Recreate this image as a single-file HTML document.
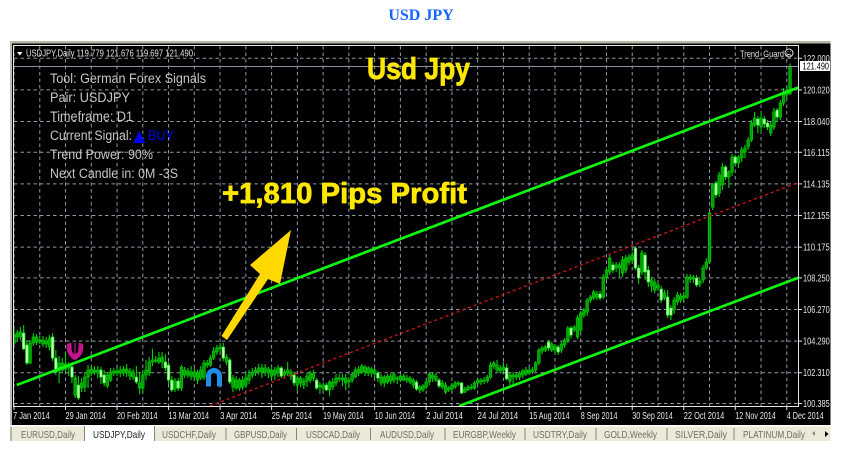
<!DOCTYPE html>
<html lang="en">
<head>
<meta charset="utf-8">
<title>USD JPY</title>
<style>
html,body{margin:0;padding:0;background:#fff;width:844px;height:459px;overflow:hidden}
svg{display:block}
text{font-family:"Liberation Sans",sans-serif}
.tab{font-size:10.5px;fill:#6f6f66}
.info{font-size:13.5px;fill:#c6c6c6}
</style>
</head>
<body>
<svg id="chart" xmlns="http://www.w3.org/2000/svg" width="844" height="459" viewBox="0 0 844 459">
  <defs><clipPath id="plot-clip"><rect x="14" y="46" width="784.5" height="360"/></clipPath></defs>
  <text x="421" y="20" text-anchor="middle" style="font-family:'Liberation Serif',serif;font-weight:bold;font-size:16px;fill:#1565ff">USD JPY</text>

  <rect x="10" y="41" width="820.5" height="385" fill="#000"/>
  <rect x="10" y="41" width="820.5" height="2.5" fill="#b9b7a4"/>
  <rect x="10" y="41" width="2" height="385" fill="#bdbcae"/>
  <g id="grid-layer"></g>
  <rect x="13.5" y="45.5" width="785" height="361" fill="none" stroke="#e4e4e4" stroke-width="1"/>
  <g id="tick-layer"></g>
  <g id="candle-layer" clip-path="url(#plot-clip)"></g>
  <g id="trend-layer" clip-path="url(#plot-clip)"></g>

  <path d="M17 52h5.5l-2.75 3.5z" fill="#fff"/>
  <text x="26" y="56.5" font-size="10" fill="#e0e0e0" textLength="167" lengthAdjust="spacingAndGlyphs">USDJPY,Daily  119.779 121.676 119.697 121.490</text>

  <text class="info" x="50" y="83" textLength="156" lengthAdjust="spacingAndGlyphs">Tool: German Forex Signals</text>
  <text class="info" x="50" y="102" textLength="80" lengthAdjust="spacingAndGlyphs">Pair: USDJPY</text>
  <text class="info" x="50" y="121" textLength="83" lengthAdjust="spacingAndGlyphs">Timeframe: D1</text>
  <text class="info" x="50" y="140" textLength="82" lengthAdjust="spacingAndGlyphs">Current Signal:</text>
  <text x="133" y="141" style="font-family:'DejaVu Sans',sans-serif;font-size:16px;fill:#0000f0">▲</text>
  <text x="148" y="140" font-size="14" fill="#0000f0" textLength="26" lengthAdjust="spacingAndGlyphs">BUY</text>
  <text class="info" x="50" y="159" textLength="103" lengthAdjust="spacingAndGlyphs">Trend Power: 90%</text>
  <text class="info" x="50" y="178" textLength="128" lengthAdjust="spacingAndGlyphs">Next Candle in: 0M -3S</text>

  <text x="367" y="79" font-size="31" font-weight="bold" fill="#ffe800" stroke="#ffe800" stroke-width="0.7" textLength="103" lengthAdjust="spacingAndGlyphs">Usd Jpy</text>
  <text x="222" y="203" font-size="29" font-weight="bold" fill="#ffe800" stroke="#ffe800" stroke-width="0.7" textLength="245" lengthAdjust="spacingAndGlyphs">+1,810 Pips Profit</text>

  <polygon points="221.5,336 260,274 250,265 291,230 280,284 268,279 227,340" fill="#ffd800"/>

  <path d="M67 344 C65.5 352 70 358 75 360 C80 358 84.5 352 83 344 L78.8 342.5 L78 352 L75.6 354 V343 H74.4 V354 L72 352 L71.2 342.5 Z" fill="#c2158c"/>
  <path d="M208.5 386.5 V376 a5.5 5.5 0 0 1 11 0 V386.5" fill="none" stroke="#1e8ce8" stroke-width="5"/>

  <text x="740" y="57" font-size="9.5" fill="#e0e0e0" textLength="44" lengthAdjust="spacingAndGlyphs">Trend_Guard</text>
  <g fill="none" stroke="#e0e0e0" stroke-width="1">
    <circle cx="789" cy="53" r="4"/>
    <path d="M786.8 55.5q2.2-2 4.4 0M787.5 51.5h.6M790 51.5h.6"/>
  </g>

  <rect x="800" y="61" width="30" height="10" fill="#fff"/>
  <text x="802.5" y="69.3" font-size="10" fill="#000" textLength="26.5" lengthAdjust="spacingAndGlyphs">121.490</text>

  <g>
    <rect x="10" y="425.5" width="820.5" height="15.5" fill="#ece9d8"/>
    <rect x="10" y="425" width="820.5" height="1.5" fill="#fff"/>
    <rect x="85" y="425" width="69.5" height="17" fill="#fff"/>
    <path d="M11 427v14M84.5 426v15M154.5 426v15M226 428v12M296.5 428v12M370.5 428v12M445 428v12M525 428v12M596 428v12M667 428v12M734 428v12" stroke="#85837a" stroke-width="1" fill="none"/>
    <text class="tab" x="21" y="438" textLength="54" lengthAdjust="spacingAndGlyphs">EURUSD,Daily</text>
    <text class="tab" x="93" y="438" textLength="52" lengthAdjust="spacingAndGlyphs" style="fill:#222">USDJPY,Daily</text>
    <text class="tab" x="162" y="438" textLength="54" lengthAdjust="spacingAndGlyphs">USDCHF,Daily</text>
    <text class="tab" x="234" y="438" textLength="53" lengthAdjust="spacingAndGlyphs">GBPUSD,Daily</text>
    <text class="tab" x="306" y="438" textLength="54" lengthAdjust="spacingAndGlyphs">USDCAD,Daily</text>
    <text class="tab" x="380" y="438" textLength="54" lengthAdjust="spacingAndGlyphs">AUDUSD,Daily</text>
    <text class="tab" x="453" y="438" textLength="63" lengthAdjust="spacingAndGlyphs">EURGBP,Weekly</text>
    <text class="tab" x="533" y="438" textLength="54" lengthAdjust="spacingAndGlyphs">USDTRY,Daily</text>
    <text class="tab" x="604" y="438" textLength="53" lengthAdjust="spacingAndGlyphs">GOLD,Weekly</text>
    <text class="tab" x="675" y="438" textLength="52" lengthAdjust="spacingAndGlyphs">SILVER,Daily</text>
    <text class="tab" x="743" y="438" textLength="62" lengthAdjust="spacingAndGlyphs">PLATINUM,Daily</text>
    <path d="M815 431v5l-3-2.5z" fill="#8a8a80"/>
    <path d="M825 431v6l3.5-3z" fill="#000"/>
  </g>
</svg>
<script>
const priceTicks = ["122.000","120.020","118.040","116.115","114.135","112.155","110.175","108.250","106.270","104.290","102.310","100.385"];
const dateTicks = ["7 Jan 2014","29 Jan 2014","20 Feb 2014","13 Mar 2014","3 Apr 2014","25 Apr 2014","19 May 2014","10 Jun 2014","2 Jul 2014","24 Jul 2014","15 Aug 2014","8 Sep 2014","30 Sep 2014","22 Oct 2014","12 Nov 2014","4 Dec 2014"];
const barsPerDateTick = [16];
const currentPrice = [121.49];

const opens = [
104.17,104.55,104.55,104.80,104.05,102.92,104.17,104.23,104.23,104.11,
104.11,103.92,104.55,103.23,102.42,102.48,102.54,102.61,102.67,100.91,
101.54,101.35,101.42,102.04,102.29,102.36,102.29,102.48,102.17,101.48,
101.85,102.29,102.29,102.29,102.29,102.29,102.10,102.04,102.04,101.35,
101.35,102.17,102.29,102.98,103.04,102.98,102.98,102.98,102.79,101.85,
101.29,101.79,101.35,102.17,102.17,102.10,102.04,101.85,101.98,102.04,
102.79,102.79,103.23,103.61,103.80,103.92,102.98,103.11,101.42,101.35,
101.35,101.42,101.54,101.85,102.17,102.36,102.36,102.36,102.36,102.29,
102.10,102.17,102.29,102.61,102.17,102.29,102.10,102.17,101.54,101.67,
101.54,101.79,101.85,101.98,101.85,101.42,101.35,101.54,101.23,101.42,
101.67,101.92,101.85,101.67,101.73,101.85,102.04,102.29,102.36,102.36,
102.29,102.29,102.23,102.29,101.67,101.67,101.73,101.79,101.85,101.92,
101.85,101.85,101.85,101.73,101.54,101.73,101.23,101.23,101.42,101.73,
101.98,101.85,101.85,101.42,101.10,101.23,101.29,101.42,101.60,101.67,
101.10,101.23,101.35,101.35,101.67,101.73,101.79,101.79,102.04,102.73,
102.48,102.42,102.48,102.61,101.79,102.04,102.04,102.04,102.17,102.23,
102.29,102.36,102.48,102.92,103.67,103.73,104.23,103.73,103.73,103.92,
103.73,104.05,104.36,105.11,104.99,104.55,104.99,105.92,106.11,106.86,
106.99,107.05,107.24,107.05,108.30,108.62,109.06,108.87,108.87,108.55,
108.74,109.24,109.37,110.12,108.87,108.62,109.68,108.74,107.74,107.49,
107.62,107.55,106.99,107.05,106.36,106.24,106.74,106.86,106.99,107.05,
108.18,108.18,108.24,107.87,108.12,108.87,109.24,112.69,114.19,113.56,
114.07,115.19,114.57,114.88,115.82,115.44,115.76,116.13,116.45,116.88,
117.82,118.20,117.70,118.20,117.95,117.32,117.70,118.76,118.32,119.20,119.70,119.78];

const highs = [
105.11,104.99,105.17,105.30,104.36,104.36,104.80,104.73,104.61,104.61,
104.55,104.67,104.80,103.73,103.36,103.23,103.61,102.98,102.98,102.17,
102.10,101.98,102.36,102.79,102.73,102.73,102.73,102.67,102.48,102.36,
102.61,102.61,102.61,102.73,102.73,102.86,102.61,102.54,102.73,102.36,
102.48,103.11,103.29,103.80,103.36,103.61,103.61,103.48,102.98,102.10,
101.98,101.98,102.79,102.67,102.61,102.73,102.61,102.48,102.73,103.11,
103.11,103.42,103.92,104.05,104.17,104.17,103.48,103.23,102.17,102.10,
101.98,102.10,102.36,102.48,102.61,102.67,102.86,102.86,102.86,102.67,
102.73,102.67,102.79,102.73,102.54,102.98,102.54,102.36,102.10,102.10,
101.98,102.29,102.42,102.48,101.98,101.73,101.73,101.67,101.85,101.98,
102.23,102.23,102.23,102.23,102.04,102.36,102.67,102.73,102.86,102.79,
102.73,102.67,102.61,102.42,102.23,102.17,102.23,102.29,102.36,102.10,
102.23,102.23,102.17,102.10,101.98,101.85,101.54,101.60,101.85,102.36,
102.36,102.29,101.98,101.85,101.73,101.48,101.67,101.79,101.79,101.73,
101.42,101.54,101.60,101.79,101.98,101.98,102.04,102.17,102.98,103.04,
103.11,102.79,102.98,102.86,102.36,102.36,102.29,102.42,102.54,102.67,
102.67,102.67,103.04,103.86,103.98,104.05,104.36,104.23,104.11,104.05,
104.23,104.48,105.24,105.24,105.30,105.92,106.17,106.36,106.99,107.18,
107.49,107.43,107.43,108.49,108.93,109.68,109.24,109.24,109.24,109.62,
109.68,109.74,109.87,110.25,109.06,110.00,109.87,108.99,108.30,108.18,
107.99,107.74,107.49,107.49,106.55,107.05,107.37,107.30,107.37,108.49,
108.49,108.43,108.43,108.18,109.06,109.49,112.37,114.19,114.32,114.88,
115.44,115.32,115.00,116.01,115.94,115.94,116.45,116.57,117.07,118.14,
118.64,118.39,118.64,118.39,118.14,118.01,118.89,118.89,119.39,120.14,120.26,121.68];

const lows = [
104.05,104.23,104.36,103.73,102.79,102.86,103.98,104.05,104.11,103.92,
103.86,103.73,103.04,102.17,101.67,102.36,102.29,102.10,101.67,100.73,
100.60,101.10,101.10,101.35,102.10,102.17,101.98,101.60,101.48,101.35,
101.73,102.10,102.10,102.04,102.10,102.04,101.85,101.85,101.60,100.98,
101.10,101.85,102.10,102.73,102.92,102.86,102.61,102.42,101.60,101.10,
101.10,101.17,101.17,101.98,101.98,101.85,101.85,101.60,101.85,101.85,
102.61,102.67,103.11,103.42,103.61,103.04,102.79,101.60,101.10,101.23,
101.17,101.23,101.35,101.60,101.98,102.10,102.17,101.98,102.10,101.98,
101.85,101.85,102.04,101.98,101.98,102.10,101.85,101.48,101.17,101.42,
101.29,101.42,101.67,101.79,101.23,100.98,101.10,101.17,100.85,101.23,
101.48,101.73,101.48,101.23,101.35,101.67,101.98,102.10,102.23,102.10,
102.10,102.04,101.98,101.73,101.48,101.42,101.60,101.60,101.67,101.60,
101.73,101.79,101.67,101.60,101.35,101.17,101.04,101.10,101.29,101.54,
101.73,101.73,101.35,101.29,100.98,101.10,101.17,101.29,101.48,100.98,
101.04,101.17,101.23,101.23,101.54,101.54,101.60,101.67,101.92,102.54,
102.36,102.23,102.36,101.85,101.54,101.48,101.85,101.85,101.98,102.10,
102.17,102.23,102.36,102.79,103.48,103.61,103.67,103.61,103.48,103.42,
103.55,103.86,104.17,104.48,104.86,104.42,104.80,105.74,105.86,106.68,
106.86,106.86,106.86,106.93,108.12,108.43,108.55,108.62,108.24,108.30,
108.55,109.06,109.24,108.74,107.87,108.43,108.12,107.68,107.37,107.30,
107.43,106.68,106.86,105.74,105.61,105.99,106.55,106.68,106.74,106.93,
107.93,107.93,107.68,107.68,107.93,108.74,109.12,112.50,113.25,113.31,
113.75,114.38,113.88,114.63,115.32,115.13,115.51,115.76,116.26,116.76,
117.70,117.32,117.38,117.63,117.51,117.13,117.51,118.01,118.14,119.01,119.51,119.70];

const closes = [
104.67,104.80,104.86,103.80,102.92,104.17,104.55,104.55,104.36,104.36,
104.30,104.48,103.23,102.36,102.92,102.92,102.86,102.73,102.04,101.98,
100.73,101.67,102.04,102.48,102.54,102.48,102.48,102.04,101.67,102.17,
102.36,102.42,102.42,102.48,102.54,102.54,102.42,102.36,101.73,101.67,
102.17,102.48,102.98,103.11,103.11,103.23,103.29,102.61,101.85,101.23,
101.79,101.35,102.67,102.48,102.42,102.36,102.36,102.29,102.48,102.92,
102.92,103.23,103.67,103.86,103.92,103.23,103.29,101.73,101.98,101.85,
101.85,101.85,101.98,102.17,102.36,102.48,102.61,102.61,102.61,102.54,
102.48,102.48,102.61,102.10,102.36,102.48,102.36,101.67,101.98,101.98,
101.79,102.10,102.29,102.29,101.35,101.54,101.54,101.23,101.73,101.73,
101.98,101.98,101.98,101.98,101.85,102.23,102.48,102.54,102.73,102.67,
102.61,102.54,102.48,101.98,102.04,102.04,102.10,102.10,102.23,101.98,
102.10,102.10,101.98,101.98,101.85,101.29,101.42,101.48,101.73,102.23,
102.17,102.10,101.48,101.67,101.54,101.35,101.54,101.67,101.67,101.04,
101.29,101.42,101.42,101.67,101.85,101.85,101.85,102.04,102.79,102.92,
102.79,102.61,102.67,101.92,102.17,102.17,102.17,102.29,102.42,102.48,
102.48,102.48,102.92,103.73,103.86,103.92,103.86,104.11,103.98,103.61,
104.11,104.36,105.11,104.67,105.17,105.74,106.05,106.24,106.86,107.05,
107.37,107.24,106.99,108.30,108.74,109.49,108.74,109.06,109.06,109.37,
109.49,109.56,109.68,108.87,108.24,109.81,108.62,107.99,108.12,107.99,
107.80,106.86,107.30,105.92,105.92,106.86,107.18,107.12,107.12,108.30,
108.30,108.30,107.80,108.05,108.87,109.24,112.31,114.07,113.44,114.69,
115.19,114.57,114.88,115.82,115.44,115.82,116.26,116.38,116.88,117.95,
118.26,117.82,118.26,117.89,117.70,117.82,118.64,118.32,119.20,119.89,120.01,121.49];

const upperChannelBars = [1, 243.7];
const upperChannelPrices = [101.54, 120.17];
const middleChannelBars = [61, 243.7];
const middleChannelPrices = [100.23, 114.22];
const lowerChannelBars = [138.4, 243.7];
const lowerChannelPrices = [100.23, 108.26];

const SVG_NS = "http://www.w3.org/2000/svg";
function xScale(bar) { return 13.5 + 3.22 * bar; }
function yScale(price) { return 58.3 + (122 - price) * 15.97; }
function make(parent, tag, attrs, text) {
  const el = document.createElementNS(SVG_NS, tag);
  for (const k in attrs) el.setAttribute(k, attrs[k]);
  if (text !== undefined) el.textContent = text;
  parent.appendChild(el);
  return el;
}

const gridLayer = document.getElementById("grid-layer");
const tickLayer = document.getElementById("tick-layer");
const candleLayer = document.getElementById("candle-layer");
const trendLayer = document.getElementById("trend-layer");
const gridStyle = { stroke: "#8e98a6", "stroke-width": 1, "stroke-dasharray": "3.5 3" };

priceTicks.forEach(function (label) {
  const y = yScale(parseFloat(label));
  const line = make(gridLayer, "line", Object.assign({ x1: 14, x2: 798, y1: y, y2: y }, gridStyle));
  
  
  const tick = make(tickLayer, "line", { x1: 798.5, x2: 802, y1: y, y2: y, stroke: "#e4e4e4" });
  
  
  const txt = make(tickLayer, "text", { x: 803, y: y + 3.5, "font-size": 10, fill: "#e6e6e6", textLength: 26.7, lengthAdjust: "spacingAndGlyphs" }, label);
  
  
});

for (let b = 0; b < opens.length; b += barsPerDateTick[0] / 2) {
  const x = xScale(b) + 0.5;
  const line = make(gridLayer, "line", Object.assign({ x1: x, x2: x, y1: 46, y2: 406 }, gridStyle));
  
  
}

dateTicks.forEach(function (label, i) {
  const x = xScale(i * barsPerDateTick[0]) + 0.5;
  const tick = make(tickLayer, "line", { x1: x, x2: x, y1: 406, y2: 410, stroke: "#e4e4e4" });
  
  
  const txt = make(tickLayer, "text", { x: i === 0 ? 13 : x, y: 419, "font-size": 10, fill: "#e6e6e6", textLength: label.length * 3.68, lengthAdjust: "spacingAndGlyphs" }, label);
  
  
});

opens.forEach(function (open, i) {
  const close = closes[i];
  const x = xScale(i) + 0.5;
  const bearish = close < open;
  const wick = make(candleLayer, "line", { x1: x, x2: x, y1: yScale(highs[i]), y2: yScale(lows[i]), stroke: "#00d400", "stroke-width": 1.1 });
  
  
  const top = yScale(Math.max(open, close));
  const bottom = yScale(Math.min(open, close));
  const body = make(candleLayer, "rect", {
    x: x - 1.3, y: top, width: 2.6, height: Math.max(bottom - top, 1),
    fill: bearish ? "#c4ffba" : "#069a06",
    stroke: bearish ? "#22e622" : "#00cc00", "stroke-width": 0.7
  });
  
  
});

function drawChannel(bars, prices, color, width, dash, name) {
  const attrs = { x1: xScale(bars[0]), x2: xScale(bars[1]), y1: yScale(prices[0]), y2: yScale(prices[1]), stroke: color, "stroke-width": width };
  if (dash) attrs["stroke-dasharray"] = dash;
  const line = make(trendLayer, "line", attrs);
  
  
}
drawChannel(upperChannelBars, upperChannelPrices, "#10f510", 2.7, null, "upper-channel-line");
drawChannel(middleChannelBars, middleChannelPrices, "#c81616", 1.4, "3 3", "middle-channel-line");
drawChannel(lowerChannelBars, lowerChannelPrices, "#10f510", 2.7, null, "lower-channel-line");

const priceLine = make(trendLayer, "line", { x1: 14, x2: 798, y1: yScale(currentPrice[0]), y2: yScale(currentPrice[0]), stroke: "#8a94a0", "stroke-width": 1 });


</script>
</body>
</html>
